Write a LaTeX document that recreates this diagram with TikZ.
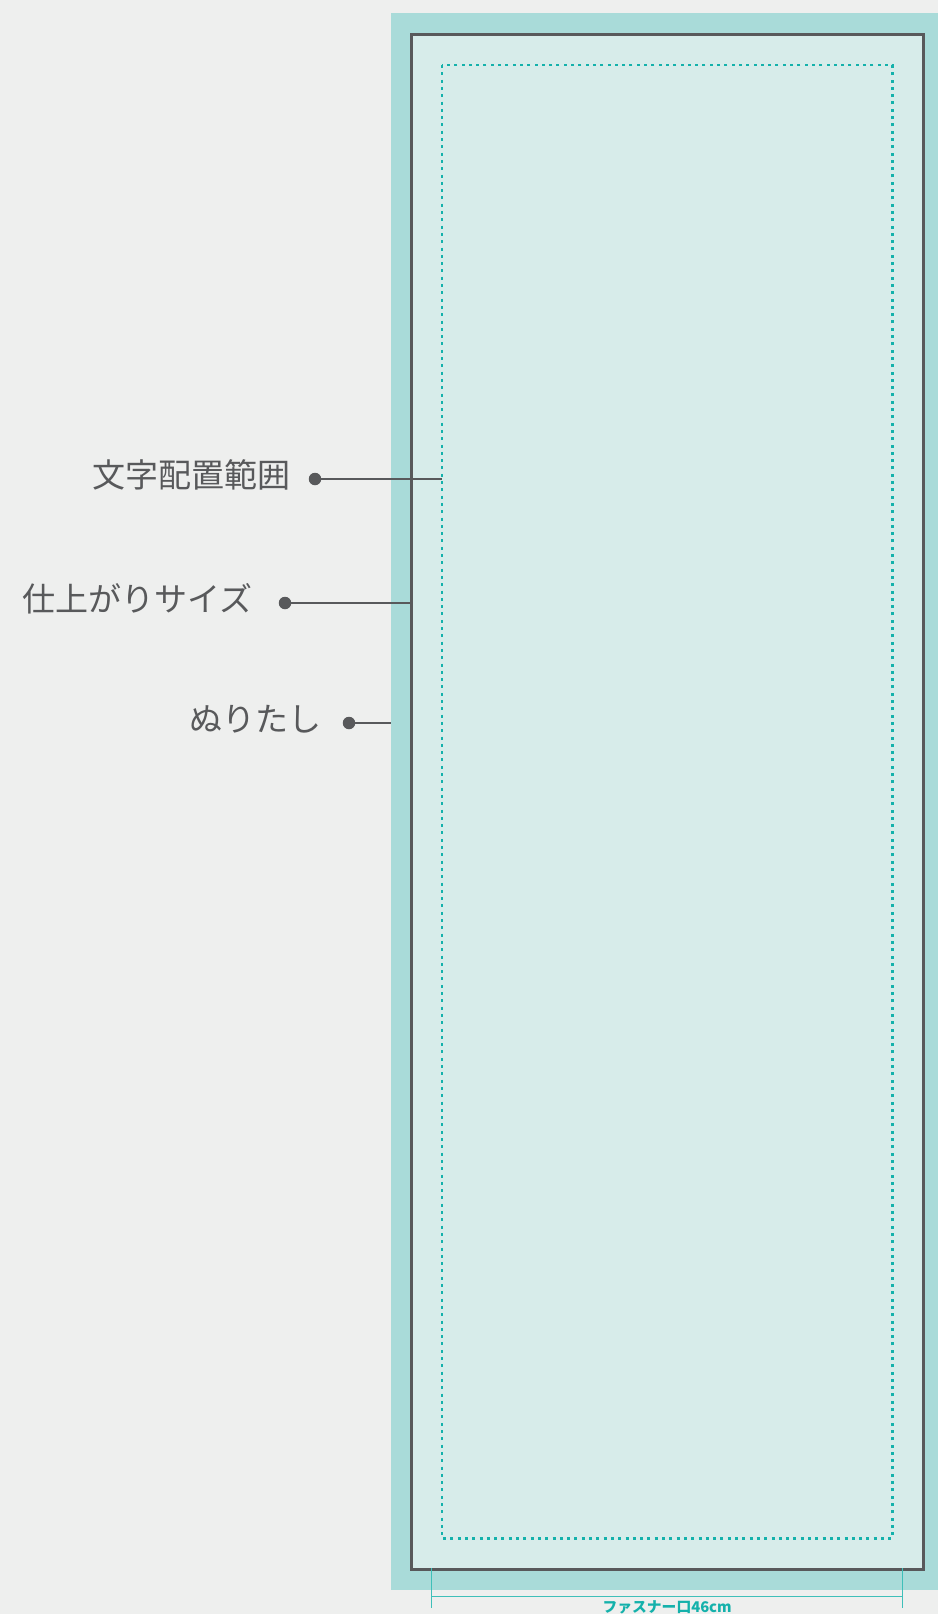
\documentclass[tikz,border=0pt]{standalone}
\usepackage{fontspec}
\setmainfont{Noto Sans CJK JP}
\usetikzlibrary{positioning}
\definecolor{bggray}{HTML}{EEEFEE}
\definecolor{bleedteal}{HTML}{A9DBD9}
\definecolor{paperteal}{HTML}{D7ECEA}
\definecolor{trimgray}{HTML}{58595B}
\definecolor{safeteal}{HTML}{14B1AB}
\definecolor{dimteal}{HTML}{3FBFB9}

\tikzset{
  lbl/.style={inner sep=0pt, text=trimgray, font=\fontsize{9.4pt}{11pt}\selectfont},
  dot/.style={circle, fill=trimgray, inner sep=0pt, minimum size=1.25mm},
  leader/.style={draw=trimgray, line width=0.2mm},
  dimline/.style={draw=dimteal, line width=0.15mm}
}

\begin{document}
\begin{tikzpicture}[x=0.1mm, y=-0.1mm]
    % basics
    \useasboundingbox (0,0) rectangle (938,1614);
    \fill[bggray] (0,0) rectangle (938,1614);
    \fill[bleedteal] (391,13) rectangle (938,1590);
    \filldraw[fill=paperteal, draw=trimgray, line width=0.3mm] (411.5,34.5) rectangle (923.2,1569.2);
    \draw[safeteal, line width=0.25mm, dash pattern=on 0.3mm off 0.43mm] (442,65) rectangle (892.3,1538.5);

    % leaders
    \coordinate (safeend) at (442,479);
    \coordinate (trimend) at (411.5,603);
    \coordinate (bleedend) at (391,723);
    \node[dot] (safedot) at (315,479) {};
    \node[dot] (trimdot) at (285,603) {};
    \node[dot] (bleeddot) at (349,723) {};
    \node[lbl, left=1.7mm of safedot, yshift=0.4mm] (safelbl) {文字配置範囲};
    \node[lbl, left=2.5mm of trimdot, yshift=0.4mm] (trimlbl) {仕上がりサイズ};
    \node[lbl, left=2.0mm of bleeddot, yshift=0.4mm] (bleedlbl) {ぬりたし};
    \draw[leader] (safedot.center) -- (safeend);
    \draw[leader] (trimdot.center) -- (trimend);
    \draw[leader] (bleeddot.center) -- (bleedend);

    % zipper width
    \coordinate (zipl) at (431.7,1568);
    \coordinate (zipr) at (902.7,1568);
    \draw[dimline] (zipl) -- ++(0,40);
    \draw[dimline] (zipr) -- ++(0,40);
    \draw[dimline] (431.7,1596.7) -- (902.7,1596.7) coordinate[midway] (zipmid);
    \node[anchor=north, inner sep=0pt, yshift=-0.3mm, text=safeteal, font=\fontsize{4.2pt}{5pt}\selectfont\bfseries] (ziplbl) at (zipmid) {ファスナー口46cm};
\end{tikzpicture}
\end{document}
